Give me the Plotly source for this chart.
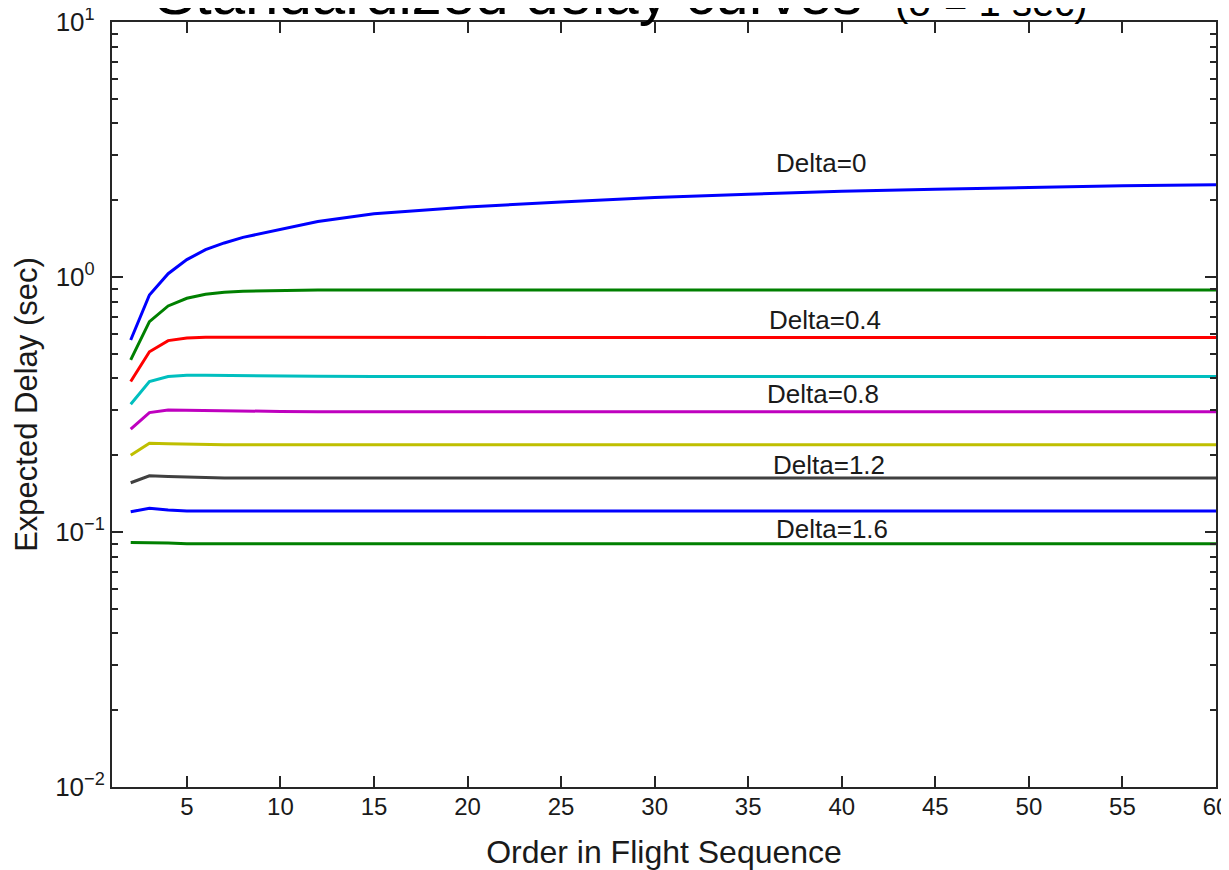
import math
import plotly.graph_objects as go

# ---- data ----
order = [2, 3, 4, 5, 6, 7, 8, 10, 12, 15, 20, 25, 30, 35, 40, 45, 50, 55, 60]

delta_0   = [0.566, 0.85, 1.03, 1.17, 1.28, 1.36, 1.43, 1.54, 1.65, 1.77, 1.88, 1.97, 2.05, 2.11, 2.17, 2.21, 2.25, 2.28, 2.30]
delta_0_2 = [0.473, 0.668, 0.77, 0.825, 0.855, 0.872, 0.88, 0.887, 0.889, 0.889, 0.889, 0.889, 0.889, 0.889, 0.889, 0.889, 0.889, 0.889, 0.889]
delta_0_4 = [0.389, 0.509, 0.563, 0.576, 0.580, 0.581, 0.581, 0.580, 0.580, 0.579, 0.579, 0.579, 0.579, 0.579, 0.579, 0.579, 0.579, 0.579, 0.579]
delta_0_6 = [0.317, 0.389, 0.407, 0.412, 0.412, 0.411, 0.410, 0.409, 0.408, 0.407, 0.407, 0.407, 0.407, 0.407, 0.407, 0.407, 0.407, 0.407, 0.407]
delta_0_8 = [0.253, 0.294, 0.301, 0.300, 0.299, 0.298, 0.297, 0.297, 0.296, 0.296, 0.296, 0.296, 0.296, 0.296, 0.296, 0.296, 0.296, 0.296, 0.296]
delta_1_0 = [0.200, 0.223, 0.222, 0.221, 0.221, 0.220, 0.220, 0.220, 0.220, 0.220, 0.220, 0.220, 0.220, 0.220, 0.220, 0.220, 0.220, 0.220, 0.220]
delta_1_2 = [0.156, 0.166, 0.165, 0.164, 0.164, 0.163, 0.163, 0.163, 0.163, 0.163, 0.163, 0.163, 0.163, 0.163, 0.163, 0.163, 0.163, 0.163, 0.163]
delta_1_4 = [0.120, 0.124, 0.122, 0.121, 0.121, 0.121, 0.121, 0.121, 0.121, 0.121, 0.121, 0.121, 0.121, 0.121, 0.121, 0.121, 0.121, 0.121, 0.121]
delta_1_6 = [0.0910, 0.0910, 0.0905, 0.0900, 0.0899, 0.0899, 0.0899, 0.0899, 0.0899, 0.0899, 0.0899, 0.0899, 0.0899, 0.0899, 0.0899, 0.0899, 0.0899, 0.0899, 0.0899]

series_names = ["Delta=0", "Delta=0.2", "Delta=0.4", "Delta=0.6", "Delta=0.8",
                "Delta=1.0", "Delta=1.2", "Delta=1.4", "Delta=1.6"]
series_values = [delta_0, delta_0_2, delta_0_4, delta_0_6, delta_0_8,
                 delta_1_0, delta_1_2, delta_1_4, delta_1_6]
series_colors = ["#0000FF", "#008000", "#FF0000", "#00BFBF", "#BF00BF",
                 "#BFBF00", "#404040", "#0000FF", "#008000"]

label_text = ["Delta=0", "Delta=0.4", "Delta=0.8", "Delta=1.2", "Delta=1.6"]
label_x = [38.9, 39.1, 39.0, 39.3, 39.5]
label_y = [2.80, 0.678, 0.348, 0.183, 0.103]

y_tick_vals = [0.01, 0.1, 1, 10]
y_tick_text = ["10<sup>\u22122</sup>", "10<sup>\u22121</sup>",
               "10<sup>0&nbsp;&nbsp;</sup>", "10<sup>1&nbsp;&nbsp;</sup>"]
x_tick_vals = [5, 10, 15, 20, 25, 30, 35, 40, 45, 50, 55, 60]

FONT = "Liberation Sans, Arial, Helvetica, sans-serif"

fig = go.Figure()
for name, vals, col in zip(series_names, series_values, series_colors):
    fig.add_trace(go.Scatter(x=order, y=vals, mode="lines", name=name,
                             line=dict(color=col, width=3), showlegend=False))

for t, lx, ly in zip(label_text, label_x, label_y):
    fig.add_annotation(x=lx, y=math.log10(ly), xref="x", yref="y", text=t,
                       showarrow=False, font=dict(family=FONT, size=26, color="#1a1a1a"))

# Title (partly cut off at the top of the page, as in the reference)
fig.add_annotation(x=(153 - 112) / 1104, y=1 - 7 / 765, xref="paper", yref="paper",
                   xanchor="left", yanchor="bottom", showarrow=False,
                   text="Standardized delay curves",
                   font=dict(family=FONT, size=60, color="black"))
fig.add_annotation(x=(893 - 112) / 1104, y=1 - 4 / 765, xref="paper", yref="paper",
                   xanchor="left", yanchor="bottom", showarrow=False,
                   text="(\u03c3 = 1 sec)",
                   font=dict(family=FONT, size=40, color="black"))

minor_y = [m * 10 ** e for e in (-2, -1, 0) for m in range(2, 10)]

# page has an 8px body margin: figure is offset by 8px right and down
fig.update_layout(
    width=1221, height=862,
    margin=dict(l=104, r=13, t=14, b=83),
    paper_bgcolor="white", plot_bgcolor="white",
    font=dict(family=FONT, size=25, color="#1a1a1a"),
    xaxis=dict(range=[1, 60], tickvals=x_tick_vals, ticks="inside", ticklen=11,
               tickwidth=1.5, tickcolor="#262626", showline=True, linecolor="#262626",
               linewidth=2, mirror="ticks", showgrid=False, zeroline=False,
               automargin=False, ticklabeloverflow="allow", ticklabelstandoff=-3,
               tickfont=dict(size=24),
               title=dict(text="Order in Flight Sequence", font=dict(size=32), standoff=24)),
    yaxis=dict(type="log", range=[-2, 1], tickvals=y_tick_vals, ticktext=y_tick_text,
               ticks="inside", ticklen=11, tickwidth=1.5, tickcolor="#262626",
               showline=True, linecolor="#262626", linewidth=2, mirror="ticks",
               showgrid=False, zeroline=False, automargin=False,
               ticklabeloverflow="allow", tickfont=dict(size=26),
               minor=dict(tickvals=minor_y, ticks="inside", ticklen=6, tickwidth=1.5,
                          tickcolor="#262626", showgrid=False),
               title=dict(text="Expected Delay (sec)", font=dict(size=31), standoff=8)),
)

fig.write_html("out.html")
